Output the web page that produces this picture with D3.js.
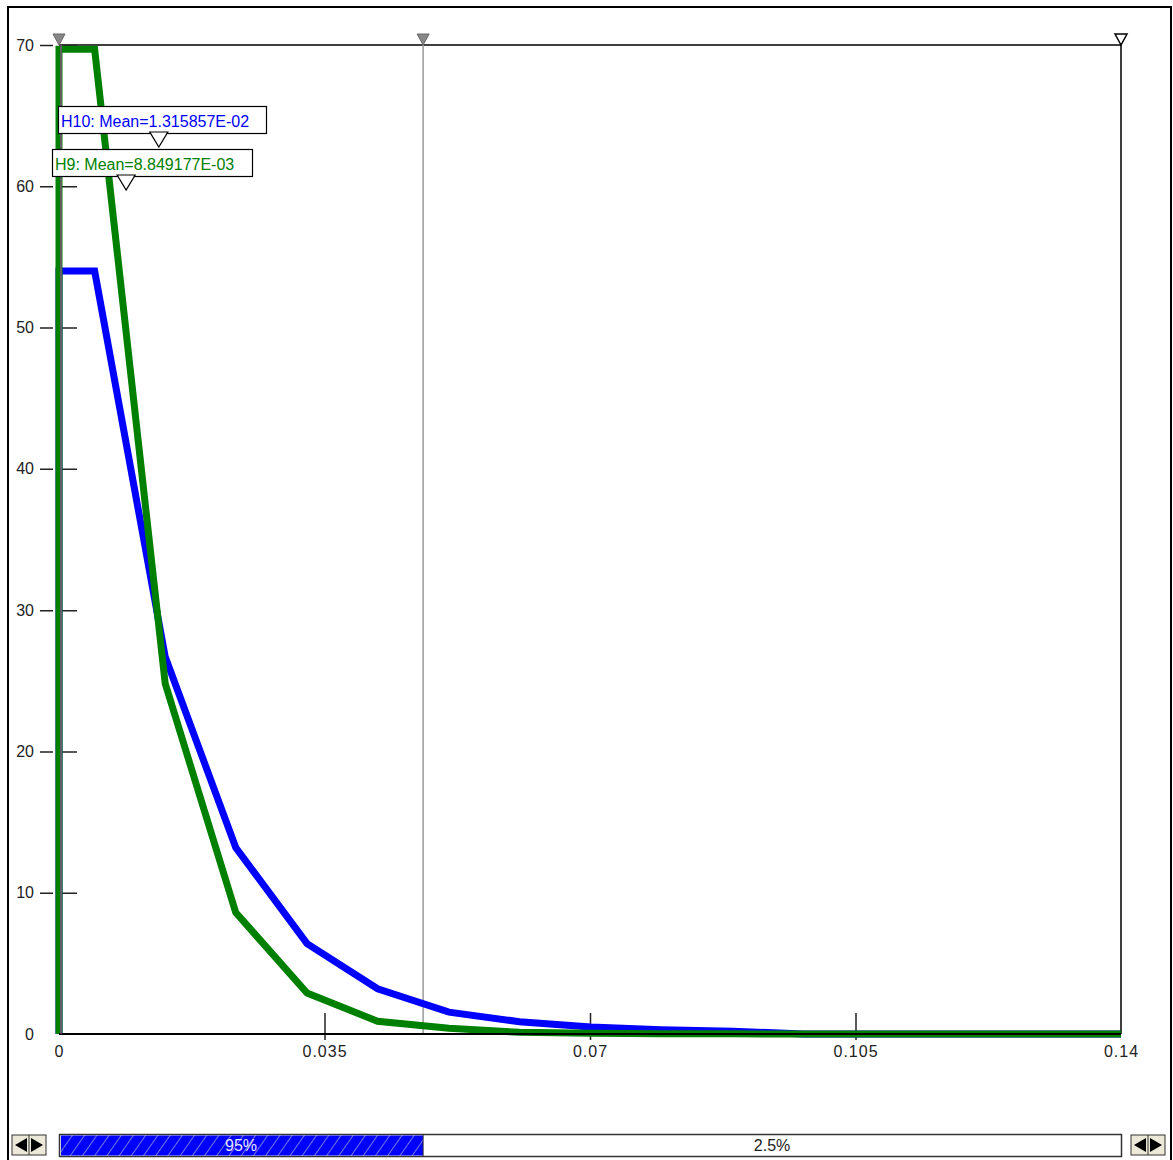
<!DOCTYPE html>
<html>
<head>
<meta charset="utf-8">
<script src="https://cdn.jsdelivr.net/npm/d3@7"></script>
<style>
body { margin: 0; background: #fff; }
svg { display: block; font-family: "Liberation Sans", Arial, sans-serif; }
.tick text { font-size: 16px; fill: #222; }
.xaxis .tick text { letter-spacing: 1px; }
</style>
</head>
<body>
<script>
// bin centres shared by both histograms
var binX = [0, 0, 0.0047, 0.0140, 0.0233, 0.0327, 0.0420, 0.0514, 0.0607, 0.0701, 0.0794, 0.0888, 0.0981, 0.1075, 0.14];
var h10 = [0, 54.0, 54.0, 26.7, 13.2, 6.4, 3.2, 1.55, 0.87, 0.5, 0.3, 0.2, 0, 0, 0];
var h9 = [0, 69.7, 69.7, 24.8, 8.6, 2.9, 0.9, 0.4, 0.12, 0.05, 0.02, 0.01, 0, 0, 0];

var xTicks = [0, 0.035, 0.07, 0.105, 0.14];
var xTickLabels = ["0", "0.035", "0.07", "0.105", "0.14"];
var yTicks = [0, 10, 20, 30, 40, 50, 60, 70];

var means = [
	{ name: "H10", label: "H10: Mean=1.315857E-02", value: 0.01315857, color: "#0000ff" },
	{ name: "H9", label: "H9: Mean=8.849177E-03", value: 0.008849177, color: "#008000" }
];
var markerX = [0, 0.048]; // filled markers on top edge
var endMarker = 0.14;
var percents = ["95%", "2.5%"];

var svg = d3.select("body")
	.append("svg")
	.attr("width", 1173)
	.attr("height", 1160);

var x = d3.scaleLinear().domain([0, 0.14]).range([59, 1121]);
var y = d3.scaleLinear().domain([0, 70]).range([1034, 45]);

// outer frame
svg.append("rect")
	.attr("x", 8).attr("y", 7)
	.attr("width", 1163).attr("height", 1200)
	.style("fill", "#fff")
	.style("stroke", "#000")
	.style("stroke-width", 2);

// plot box (top and right edges)
svg.append("path")
	.attr("d", "M" + x(0) + "," + y(70) + "H" + x(0.14) + "V" + y(0))
	.style("fill", "none")
	.style("stroke", "#000")
	.style("stroke-width", 1.5);

// percentile marker line
svg.append("line")
	.attr("x1", x(markerX[1])).attr("x2", x(markerX[1]))
	.attr("y1", y(70)).attr("y2", y(0))
	.style("stroke", "#999")
	.style("stroke-width", 1.5);

// y axis
var yAxis = svg.append("g")
	.attr("transform", "translate(" + x(0) + ",0)")
	.call(d3.axisLeft(y).tickValues(yTicks).tickSize(0).tickPadding(25));
yAxis.select(".domain").remove();
yAxis.selectAll(".tick")
	.filter(function(d) { return d > 0; })
	.append("path")
	.attr("d", "M-19,0H-6M3,0H18")
	.style("stroke", "#222")
	.style("stroke-width", 1.5);

// x axis
var xAxis = svg.append("g")
	.attr("class", "xaxis")
	.attr("transform", "translate(0," + y(0) + ")")
	.call(d3.axisBottom(x).tickValues(xTicks)
		.tickFormat(function(d, i) { return xTickLabels[i]; })
		.tickSize(0).tickPadding(12));
xAxis.select(".domain").remove();
xAxis.selectAll(".tick")
	.filter(function(d) { return d > 0 && d < 0.14; })
	.append("line")
	.attr("y1", -21).attr("y2", 6)
	.style("stroke", "#222")
	.style("stroke-width", 1.5);

var line = d3.line()
	.x(function(d) { return x(d[0]); })
	.y(function(d) { return y(d[1]); });

svg.append("path")
	.datum(binX.map(function(v, i) { return [v, h10[i]]; }))
	.attr("d", line)
	.style("fill", "none")
	.style("stroke", "#0000ff")
	.style("stroke-width", 7)
	.style("stroke-linejoin", "miter");

svg.append("path")
	.datum(binX.map(function(v, i) { return [v, h9[i]]; }))
	.attr("d", line)
	.style("fill", "none")
	.style("stroke", "#008000")
	.style("stroke-width", 7)
	.style("stroke-linejoin", "miter");

// x axis baseline and left marker line on top of the curves
svg.append("line")
	.attr("x1", x(0)).attr("x2", x(0.14))
	.attr("y1", y(0)).attr("y2", y(0))
	.style("stroke", "#000")
	.style("stroke-width", 2);
svg.append("line")
	.attr("x1", x(0) + 2).attr("x2", x(0) + 2)
	.attr("y1", y(70)).attr("y2", y(0))
	.style("stroke", "#c040c0")
	.style("stroke-width", 1);

// top markers
function tri(cx, tipY) {
	return "M" + (cx - 6) + "," + (tipY - 11) + "H" + (cx + 6) + "L" + cx + "," + tipY + "Z";
}
markerX.forEach(function(m) {
	svg.append("path")
		.attr("d", tri(x(m), y(70)))
		.style("fill", "#888")
		.style("stroke", "#666")
		.style("stroke-width", 1);
});
svg.append("path")
	.attr("d", tri(x(endMarker), y(70)))
	.style("fill", "#fff")
	.style("stroke", "#000")
	.style("stroke-width", 1.5);

// mean labels
var boxes = [
	{ x: 58, y: 106, w: 208, h: 27 },
	{ x: 52, y: 149, w: 200, h: 27 }
];
means.forEach(function(m, i) {
	var b = boxes[i];
	svg.append("rect")
		.attr("x", b.x + 0.5).attr("y", b.y + 0.5)
		.attr("width", b.w).attr("height", b.h)
		.style("fill", "#fff")
		.style("stroke", "#000")
		.style("stroke-width", 1.2);
	svg.append("text")
		.attr("x", b.x + 3).attr("y", b.y + 21)
		.style("font-size", "16px")
		.style("fill", m.color)
		.text(m.label);
	var mx = x(m.value);
	var ty = b.y + b.h + 14;
	svg.append("path")
		.attr("d", "M" + (mx - 9) + "," + (ty - 15) + "H" + (mx + 9) + "L" + mx + "," + ty + "Z")
		.style("fill", "#fff")
		.style("stroke", "#000")
		.style("stroke-width", 1.2);
});

// bottom percentile bar
var defs = svg.append("defs");
var pat = defs.append("pattern")
	.attr("id", "hatch")
	.attr("patternUnits", "userSpaceOnUse")
	.attr("width", 10).attr("height", 10)
	.attr("patternTransform", "rotate(35)");
pat.append("rect").attr("width", 10).attr("height", 10).style("fill", "#0000ff");
pat.append("line").attr("x1", 0).attr("x2", 0).attr("y1", 0).attr("y2", 10)
	.style("stroke", "#9a9ad8").style("stroke-width", 1.5);

var barY = 1134, barH = 22;
svg.append("rect")
	.attr("x", x(0) + 0.5).attr("y", barY + 0.5)
	.attr("width", x(0.14) - x(0)).attr("height", barH)
	.style("fill", "#fff")
	.style("stroke", "#333")
	.style("stroke-width", 1.5);
svg.append("rect")
	.attr("x", x(0) + 2).attr("y", barY + 1.5)
	.attr("width", x(markerX[1]) - x(0) - 2).attr("height", barH - 2)
	.style("fill", "url(#hatch)");
svg.append("line")
	.attr("x1", x(markerX[1])).attr("x2", x(markerX[1]))
	.attr("y1", barY).attr("y2", barY + barH)
	.style("stroke", "#333");
svg.append("text")
	.attr("x", (x(0) + x(markerX[1])) / 2).attr("y", barY + 17)
	.attr("text-anchor", "middle")
	.style("font-size", "16px")
	.style("fill", "#e8e8ff")
	.text(percents[0]);
svg.append("text")
	.attr("x", (x(markerX[1]) + x(0.14)) / 2).attr("y", barY + 17)
	.attr("text-anchor", "middle")
	.style("font-size", "16px")
	.style("fill", "#222")
	.text(percents[1]);

// scroll buttons
function buttons(bx) {
	var g = svg.append("g").attr("transform", "translate(" + bx + "," + (barY + 1) + ")");
	g.append("rect").attr("width", 34).attr("height", 20)
		.style("fill", "#ece9d8").style("stroke", "#333").style("stroke-width", 1);
	g.append("line").attr("x1", 17).attr("x2", 17).attr("y1", 0).attr("y2", 20)
		.style("stroke", "#333");
	g.append("path").attr("d", "M3,10L15,3V17Z").style("fill", "#000");
	g.append("path").attr("d", "M31,10L19,3V17Z").style("fill", "#000");
}
buttons(12);
buttons(1131);
</script>
</body>
</html>
